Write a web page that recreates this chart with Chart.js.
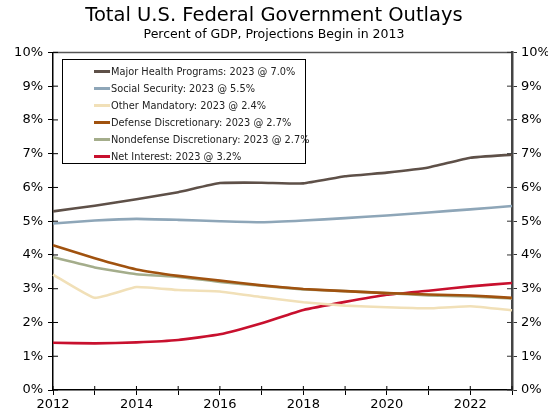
<!DOCTYPE html>
<html>
<head>
<meta charset="utf-8">
<script src="https://cdn.jsdelivr.net/npm/chart.js@4.4.0/dist/chart.umd.min.js"></script>
<style>
    html, body { margin: 0; padding: 0; background: #fff; }
    #wrap { position: relative; width: 548px; height: 414px; }
    #legendBox {
        position: absolute; left: 62px; top: 59px; width: 244px; height: 105px;
        border: 1px solid #000; background: #fff; box-sizing: border-box;
        font-family: 'DejaVu Sans', Verdana, sans-serif; font-size: 9.8px; color: #222;
        padding-top: 3px;
    }
    .lg-row { height: 17px; line-height: 17px; white-space: nowrap; display: flex; align-items: center; }
    .lg-line { display: inline-block; flex: 0 0 16px; width: 16px; height: 3px; margin-left: 31px; margin-right: 1px; }
</style>
</head>
<body>
<div id="wrap">
    <canvas id="outlaysChart" width="548" height="414"></canvas>
    <div id="legendBox"></div>
</div>
<script>
// 資料
const years = ['2012', '2013', '2014', '2015', '2016', '2017', '2018', '2019', '2020', '2021', '2022', '2023'];

const majorHealth   = [5.29, 5.46, 5.65, 5.86, 6.13, 6.14, 6.12, 6.33, 6.44, 6.59, 6.88, 6.97];
const socialSec     = [4.93, 5.02, 5.07, 5.04, 5.00, 4.97, 5.02, 5.09, 5.17, 5.26, 5.35, 5.45];
const otherMand     = [3.42, 2.73, 3.05, 2.96, 2.92, 2.75, 2.60, 2.50, 2.45, 2.42, 2.48, 2.36];
const defenseDisc   = [4.29, 3.90, 3.57, 3.38, 3.24, 3.10, 2.99, 2.93, 2.87, 2.83, 2.80, 2.73];
const nondefDisc    = [3.93, 3.63, 3.43, 3.35, 3.20, 3.09, 2.98, 2.93, 2.87, 2.80, 2.77, 2.71];
const netInterest   = [1.40, 1.38, 1.41, 1.48, 1.65, 1.98, 2.37, 2.61, 2.82, 2.94, 3.07, 3.17];

const seriesNames = [
    'Major Health Programs: 2023 @ 7.0%',
    'Social Security: 2023 @ 5.5%',
    'Other Mandatory: 2023 @ 2.4%',
    'Defense Discretionary: 2023 @ 2.7%',
    'Nondefense Discretionary: 2023 @ 2.7%',
    'Net Interest: 2023 @ 3.2%'
];
const seriesColors = ['#5e5048', '#8ea6b8', '#f1e0b8', '#a0520f', '#a4ad8b', '#c8102e'];
const seriesData = [majorHealth, socialSec, otherMand, defenseDisc, nondefDisc, netInterest];

const yTicks = [0, 1, 2, 3, 4, 5, 6, 7, 8, 9, 10];

const FONT = "'DejaVu Sans', Verdana, sans-serif";

// 軸線與內側刻度
const axisDecor = {
    id: 'axisDecor',
    afterDatasetsDraw(chart) {
        const ctx = chart.ctx;
        const a = chart.chartArea;
        const y = chart.scales.y;
        const x = chart.scales.x;
        ctx.save();
        // top border
        ctx.strokeStyle = '#555';
        ctx.lineWidth = 1.5;
        ctx.beginPath();
        ctx.moveTo(a.left, a.top);
        ctx.lineTo(a.right, a.top);
        ctx.stroke();
        // inner ticks on y axes
        ctx.lineWidth = 1;
        yTicks.forEach(v => {
            const py = y.getPixelForValue(v);
            ctx.strokeStyle = '#000';
            ctx.beginPath();
            ctx.moveTo(a.left, py);
            ctx.lineTo(a.left + 5, py);
            ctx.stroke();
            ctx.strokeStyle = '#333';
            ctx.beginPath();
            ctx.moveTo(a.right, py);
            ctx.lineTo(a.right - 5, py);
            ctx.stroke();
        });
        // inner ticks on x axis
        ctx.strokeStyle = '#000';
        years.forEach((yr, i) => {
            const px = x.getPixelForValue(i);
            ctx.beginPath();
            ctx.moveTo(px, a.bottom);
            ctx.lineTo(px, a.bottom - 4);
            ctx.stroke();
        });
        ctx.restore();
    }
};

function loadOutlaysChart() {
    const ctx = document.getElementById('outlaysChart').getContext('2d');

    const datasets = seriesData.map((d, i) => ({
        label: seriesNames[i],
        data: d,
        borderColor: seriesColors[i],
        backgroundColor: seriesColors[i],
        borderWidth: 2.6,
        pointRadius: 0,
        tension: 0.12
    }));

    new Chart(ctx, {
        type: 'line',
        data: { labels: years, datasets: datasets },
        options: {
            responsive: false,
            animation: false,
            layout: { padding: { left: 0, right: 0, top: 0, bottom: 0 } },
            plugins: {
                legend: { display: false },
                tooltip: { enabled: false },
                title: {
                    display: true,
                    text: 'Total U.S. Federal Government Outlays',
                    color: '#000',
                    font: { family: FONT, size: 19.5, weight: 'normal' },
                    padding: { top: 4, bottom: 0 }
                },
                subtitle: {
                    display: true,
                    text: 'Percent of GDP, Projections Begin in 2013',
                    color: '#000',
                    font: { family: FONT, size: 12.5 },
                    padding: { top: 0, bottom: 10 }
                }
            },
            scales: {
                x: {
                    offset: false,
                    grid: { drawOnChartArea: false, color: '#000', tickLength: 5 },
                    border: { color: '#000', width: 1.5 },
                    ticks: {
                        color: '#000',
                        font: { family: FONT, size: 13 },
                        maxRotation: 0,
                        autoSkip: false,
                        padding: 2,
                        callback: function(value, index) {
                            return index % 2 === 0 ? years[index] : '';
                        }
                    },
                    afterFit: s => { s.height = 24; }
                },
                y: {
                    position: 'left',
                    min: 0, max: 10,
                    grid: { drawOnChartArea: false, color: '#000', tickLength: 5 },
                    border: { color: '#000', width: 1.5 },
                    ticks: {
                        stepSize: 1,
                        color: '#000',
                        font: { family: FONT, size: 13 },
                        padding: 5,
                        callback: v => v + '%'
                    },
                    afterFit: s => { s.width = 53; }
                },
                y2: {
                    position: 'right',
                    min: 0, max: 10,
                    grid: { drawOnChartArea: false, color: '#333', tickLength: 5 },
                    border: { color: '#444', width: 2.5 },
                    ticks: {
                        stepSize: 1,
                        color: '#000',
                        font: { family: FONT, size: 13 },
                        padding: 4,
                        callback: v => v + '%'
                    },
                    afterFit: s => { s.width = 36; }
                }
            }
        },
        plugins: [axisDecor]
    });

    // 圖例
    const box = document.getElementById('legendBox');
    seriesNames.forEach((name, i) => {
        const row = document.createElement('div');
        row.className = 'lg-row';
        const ln = document.createElement('span');
        ln.className = 'lg-line';
        ln.style.background = seriesColors[i];
        const tx = document.createElement('span');
        tx.textContent = name;
        row.appendChild(ln);
        row.appendChild(tx);
        box.appendChild(row);
    });
}

loadOutlaysChart();
</script>
</body>
</html>
